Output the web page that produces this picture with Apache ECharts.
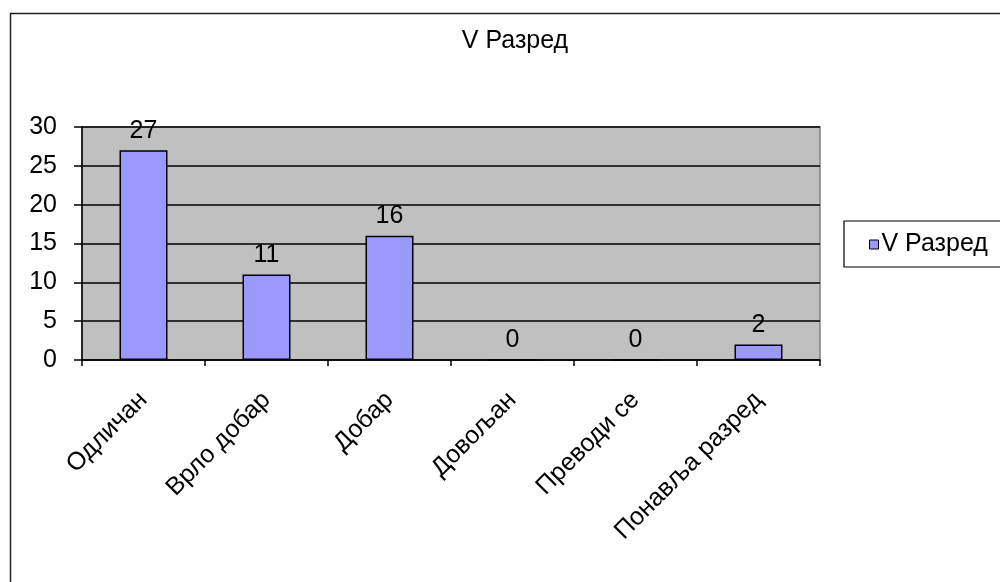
<!DOCTYPE html>
<html><head><meta charset="utf-8">
<script src="https://cdn.jsdelivr.net/npm/echarts@6/dist/echarts.min.js"></script>
<style>html,body{margin:0;padding:0;background:#fff}#c{width:1000px;height:582px}</style>
</head><body><div id="c"></div>
<script>
const title = 'V Разред';
const categories = ['Одличан', 'Врло добар', 'Добар', 'Довољан', 'Преводи се', 'Понавља разред'];
const values = [27, 11, 16, 0, 0, 2];
const yTicks = [0, 5, 10, 15, 20, 25, 30];

const font = '"Liberation Sans", Arial, sans-serif';
const fs = 25;
const chart = echarts.init(document.getElementById('c'));
chart.setOption({
  animation: false,
  backgroundColor: '#fff',
  textStyle: { fontFamily: font },
  graphic: [{
    type: 'rect', left: 8, top: 11, z: -10,
    shape: { width: 1100, height: 700 },
    style: { fill: 'none', stroke: '#222', lineWidth: 1.5 }
  }],
  title: {
    text: title, left: 510, top: 24, textAlign: 'center',
    textStyle: { fontFamily: font, fontSize: fs, fontWeight: 'normal', color: '#000' }
  },
  legend: {
    left: 844, top: 221,
    padding: [11, 20, 10, 25],
    borderColor: '#000', borderWidth: 1.2,
    itemWidth: 9, itemHeight: 9, itemGap: 0,
    icon: 'rect',
    textStyle: { fontFamily: font, fontSize: fs, color: '#000', padding: [0, 0, 0, -2] },
    data: [{ name: title, itemStyle: { color: '#9999FF', borderColor: '#000', borderWidth: 1 } }]
  },
  grid: {
    left: 82, right: 180, top: 127, bottom: 222,
    show: true, backgroundColor: '#C0C0C0', borderColor: '#808080', borderWidth: 1.5
  },
  xAxis: {
    type: 'category', data: categories,
    axisLine: { lineStyle: { color: '#000', width: 1.5 } },
    axisTick: { show: true, alignWithLabel: false, length: 6, lineStyle: { color: '#000', width: 1.5 } },
    axisLabel: { rotate: 45, fontSize: fs, color: '#000', fontFamily: font, margin: 36, interval: 0 }
  },
  yAxis: {
    type: 'value', min: 0, max: 30, interval: 5,
    axisLine: { show: true, lineStyle: { color: '#000', width: 1.5 } },
    axisTick: { show: true, length: 8, lineStyle: { color: '#000', width: 1.5 } },
    axisLabel: { fontSize: fs, color: '#000', fontFamily: font, margin: 25 },
    splitLine: { show: true, lineStyle: { color: '#000', width: 1.5 } }
  },
  series: [{
    name: title, type: 'bar', data: values, barWidth: '39%',
    itemStyle: { color: '#9999FF', borderColor: '#000', borderWidth: 1.5 },
    label: { show: true, position: 'top', distance: 7, fontSize: fs, color: '#000', fontFamily: font }
  }]
});
</script></body></html>
